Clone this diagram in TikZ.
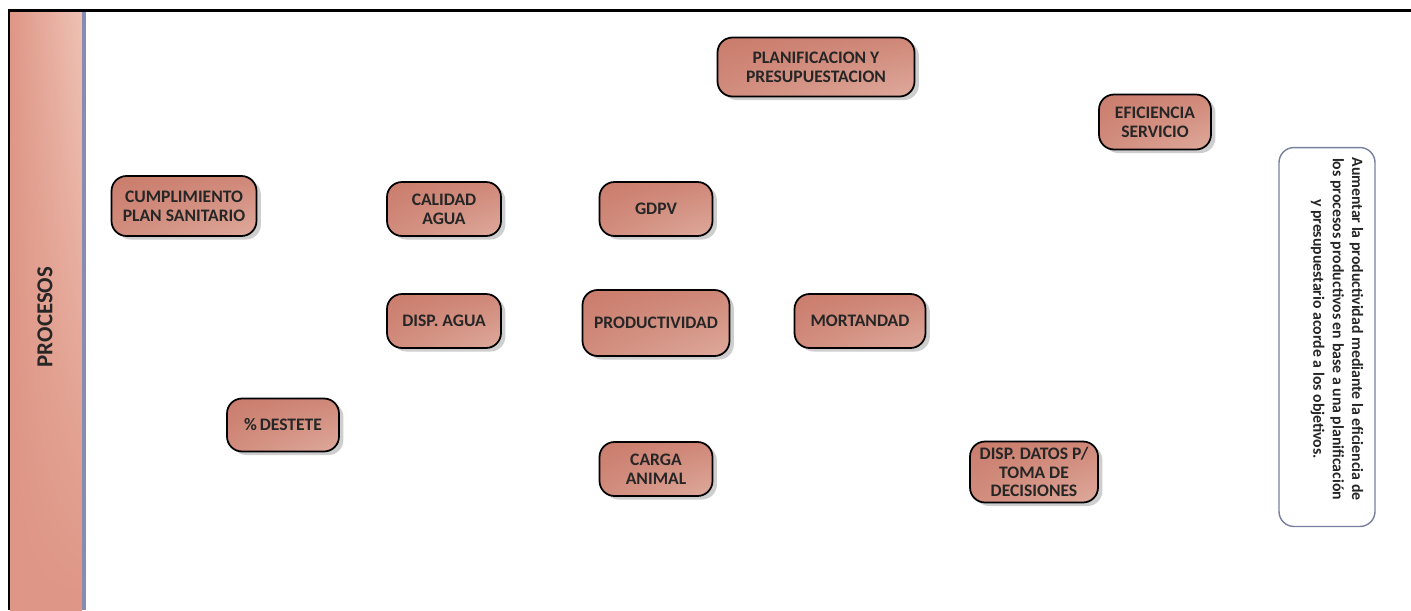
\documentclass[tikz,border=0pt]{standalone}
\usepackage{fontspec}
\setmainfont{Carlito}
\usetikzlibrary{shadows,shadings,positioning}
\definecolor{boxdark}{RGB}{202,124,108}
\definecolor{boxlight}{RGB}{222,170,156}
\definecolor{bandlight}{RGB}{238,194,180}
\definecolor{banddark}{RGB}{222,150,134}
\definecolor{sepblue}{RGB}{135,141,178}
\definecolor{goalrim}{RGB}{120,128,158}

\begin{document}
\begin{tikzpicture}[
  x=0.02cm, y=-0.02cm,
  proc/.style={draw, line width=1pt, rounded corners=0.3cm,
              upper left=boxdark, upper right=boxdark!75!boxlight,
              lower left=boxdark!65!boxlight, lower right=boxlight,
              drop shadow={shadow xshift=2.5pt, shadow yshift=-2pt,
                           opacity=0.35, fill=black!55},
              font=\fontsize{10}{10.6}\selectfont\bfseries,
              text=black!85, align=center, inner sep=1pt},
  goal/.style={draw=goalrim, line width=0.8pt, rounded corners=0.3cm,
               fill=white, minimum width=1.92cm, minimum height=7.58cm}
]
\useasboundingbox (0,0) rectangle (1411,610);

% Left band
\shade[upper left=banddark, upper right=bandlight,
       lower left=banddark, lower right=banddark] (10,11) rectangle (82,610);
\draw[sepblue, line width=2pt] (84,11) -- (84,610);
\draw[line width=1.7pt] (9,610) -- (9,10) -- (1411,10);
\node[rotate=90, font=\fontsize{13}{15}\selectfont\bfseries, text=black!85]
  (procesos) at (45,317) {PROCESOS};

% Process boxes
\node[proc, minimum width=2.9cm,  minimum height=1.2cm]  (cump)   at (184,206)  {CUMPLIMIENTO\\PLAN SANITARIO};
\node[proc, minimum width=2.28cm, minimum height=1.08cm] (calag)  at (444,209)  {CALIDAD\\AGUA};
\node[proc, minimum width=2.26cm, minimum height=1.08cm] (gdpv)   at (656,209)  {GDPV};
\node[proc, minimum width=3.94cm, minimum height=1.18cm] (plan)   at (816,67)   {PLANIFICACION Y\\PRESUPUESTACION};
\node[proc, minimum width=2.24cm, minimum height=1.1cm]  (efic)   at (1155,122) {EFICIENCIA\\SERVICIO};
\node[proc, minimum width=2.28cm, minimum height=1.08cm] (dispag) at (444,321)  {DISP. AGUA};
\node[proc, minimum width=2.94cm, minimum height=1.32cm] (prod)   at (656,323)  {PRODUCTIVIDAD};
\node[proc, minimum width=2.62cm, minimum height=1.08cm] (mort)   at (860,321)  {MORTANDAD};
\node[proc, minimum width=2.24cm, minimum height=1.06cm] (dest)   at (283,425)  {\%\,DESTETE};
\node[proc, minimum width=2.26cm, minimum height=1.08cm] (carga)  at (656,469)  {CARGA\\ANIMAL};
\node[proc, minimum width=2.56cm, minimum height=1.22cm] (datos)  at (1034,472) {DISP. DATOS P/\\TOMA DE\\DECISIONES};

% Objective box
\node[goal] (obj) at (1327,337) {};
\node[rotate=-90, font=\fontsize{9}{11}\selectfont\bfseries, text=black!85, align=center]
  (objtxt) at (1337,329) {Aumentar la productividad mediante la eficiencia de\\
  los procesos productivos en base a una planificación\\
  y presupuestario acorde a los objetivos.};
\end{tikzpicture}
\end{document}
